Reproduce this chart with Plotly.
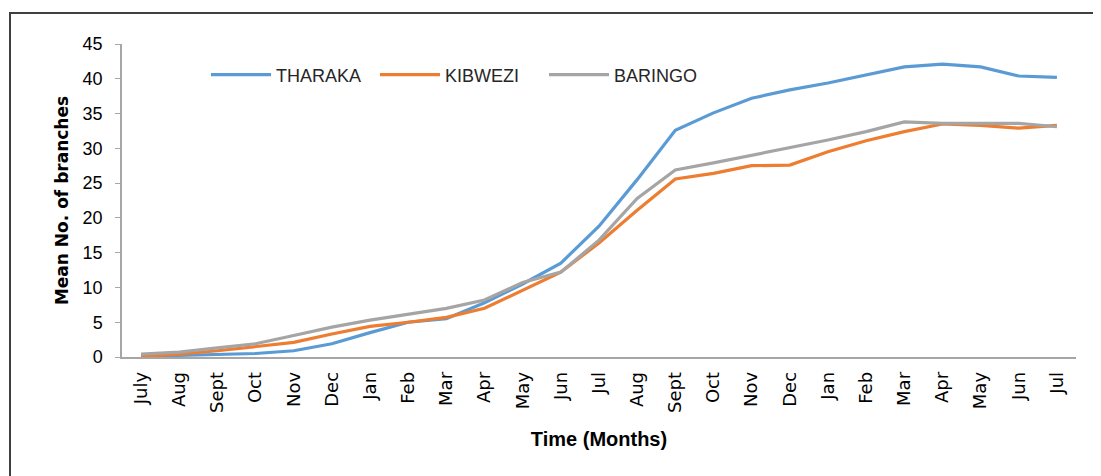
import plotly.graph_objects as go

months = ["July", "Aug", "Sept", "Oct", "Nov", "Dec", "Jan", "Feb", "Mar", "Apr", "May", "Jun",
          "Jul", "Aug", "Sept", "Oct", "Nov", "Dec", "Jan", "Feb", "Mar", "Apr", "May", "Jun", "Jul"]

tharaka = [0.1, 0.2, 0.3, 0.5, 0.9, 1.9, 3.5, 5.0, 5.5, 7.8, 10.5, 13.5,
           18.8, 25.5, 32.6, 35.1, 37.2, 38.4, 39.4, 40.6, 41.7, 42.1, 41.7, 40.4, 40.2]
kibwezi = [0.1, 0.4, 0.9, 1.5, 2.1, 3.3, 4.4, 5.0, 5.7, 7.0, 9.6, 12.2,
           16.4, 21.1, 25.6, 26.4, 27.5, 27.6, 29.5, 31.1, 32.4, 33.5, 33.3, 32.9, 33.3]
baringo = [0.4, 0.7, 1.3, 1.9, 3.1, 4.3, 5.3, 6.2, 7.0, 8.2, 10.7, 12.2,
           16.8, 22.8, 26.9, 27.9, 29.0, 30.0, 31.2, 32.4, 33.8, 33.6, 33.6, 33.6, 33.1]

series = [("THARAKA", tharaka, "#5B9BD5"),
          ("KIBWEZI", kibwezi, "#ED7D31"),
          ("BARINGO", baringo, "#A5A5A5")]

xpos = list(range(len(months)))

fig = go.Figure()
for name, vals, col in series:
    fig.add_trace(go.Scatter(x=xpos, y=vals, mode="lines", name=name,
                             line=dict(color=col, width=3.2)))

# page has an 8px body margin, so the figure is drawn 8px lower/right
W, H = 1093, 468
L, R, T, B = 114, 25, 36, 119
pw, ph = W - L - R, H - T - B

def px(x):
    return (x - L) / pw

def py(y):
    return (H - B - y) / ph

fig.update_layout(
    width=W, height=H,
    margin=dict(l=L, r=R, t=T, b=B),
    paper_bgcolor="white", plot_bgcolor="white",
    font=dict(family="Liberation Sans", color="#262626"),
    legend=dict(orientation="h", x=px(198), y=py(67), xanchor="left", yanchor="middle",
                font=dict(size=18, family="Liberation Sans", color="#262626"),
                bgcolor="rgba(0,0,0,0)", itemwidth=60, entrywidth=94, tracegroupgap=0),
    xaxis=dict(range=[-0.5, len(months) - 0.5], tickvals=xpos, ticktext=months,
               tickangle=-90, showgrid=False, zeroline=False,
               showline=True, linecolor="#A6A6A6", linewidth=1.5,
               ticks="outside", ticklen=6, tickcolor="rgba(0,0,0,0)",
               tickfont=dict(size=18, family="DejaVu Sans", color="#000000"),
               title=dict(text="<b>Time (Months)</b>", standoff=20,
                          font=dict(size=20, family="Liberation Sans", color="#000000"))),
    yaxis=dict(range=[0, 45], dtick=5, showgrid=False, zeroline=False,
               showline=True, linecolor="#A6A6A6", linewidth=1.5,
               ticks="outside", ticklen=5, tickcolor="#A6A6A6", ticklabelstandoff=9,
               tickfont=dict(size=18, family="Liberation Sans", color="#000000"),
               title=dict(text="<b>Mean No. of branches</b>", standoff=10,
                          font=dict(size=17, family="DejaVu Sans", color="#000000"))),
)

fig.add_shape(type="path", xref="paper", yref="paper",
              path=f"M {px(2)} {py(480)} L {px(2)} {py(5)} L {px(1105)} {py(5)}",
              line=dict(color="#404040", width=2))

fig.write_html("out.html")
